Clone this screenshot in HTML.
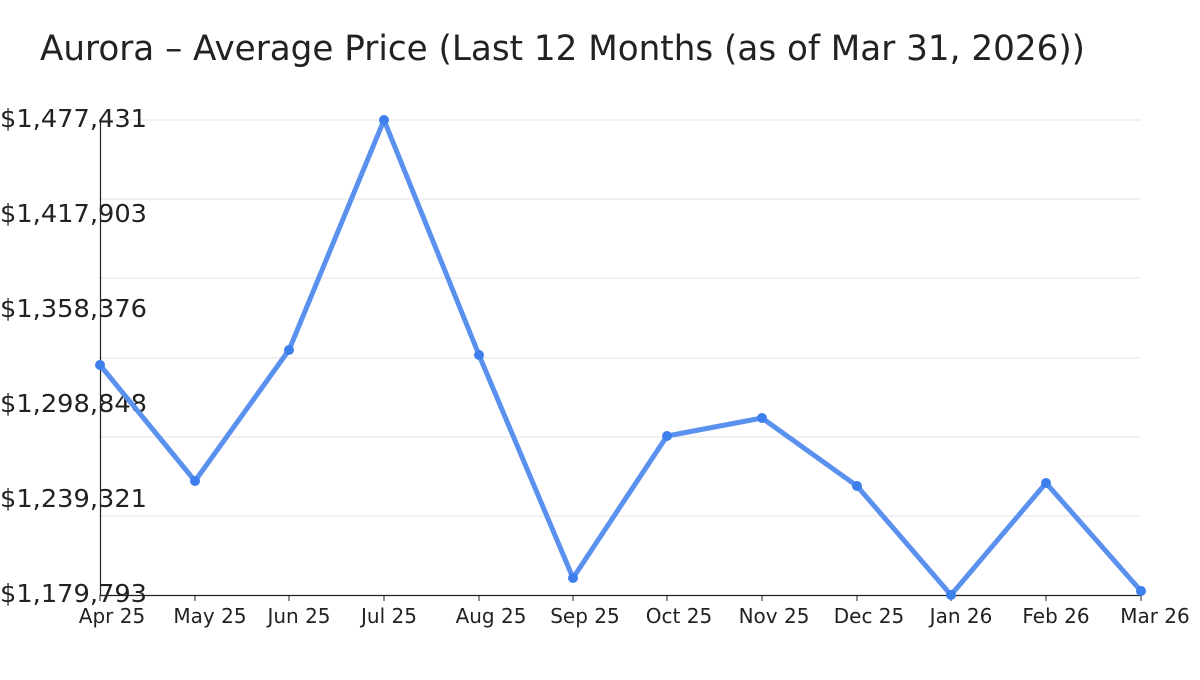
<!DOCTYPE html>
<html><head><meta charset="utf-8"><style>
body{margin:0;background:#fff;}
svg text{font-family:"DejaVu Sans","Liberation Sans",sans-serif;fill:#222;}
</style></head><body>
<svg width="1200" height="675" viewBox="0 0 1200 675">
<text x="40" y="60" font-size="35" textLength="1045" lengthAdjust="spacingAndGlyphs">Aurora – Average Price (Last 12 Months (as of Mar 31, 2026))</text>
<g stroke="#e3e3e3" stroke-width="1">
<line x1="100" x2="1141" y1="120" y2="120"/><line x1="100" x2="1141" y1="199" y2="199"/>
<line x1="100" x2="1141" y1="278" y2="278"/><line x1="100" x2="1141" y1="358" y2="358"/>
<line x1="100" x2="1141" y1="437" y2="437"/><line x1="100" x2="1141" y1="516" y2="516"/>
</g>
<line x1="100.5" x2="100.5" y1="120" y2="595" stroke="#222" stroke-width="1.2"/>
<line x1="100" x2="1141" y1="595.5" y2="595.5" stroke="#222" stroke-width="1.2"/>
<g stroke="#222" stroke-width="1">
<line x1="100" x2="100" y1="595" y2="601"/><line x1="195" x2="195" y1="595" y2="601"/><line x1="289" x2="289" y1="595" y2="601"/><line x1="384" x2="384" y1="595" y2="601"/><line x1="479" x2="479" y1="595" y2="601"/><line x1="573" x2="573" y1="595" y2="601"/><line x1="667" x2="667" y1="595" y2="601"/><line x1="762" x2="762" y1="595" y2="601"/><line x1="857" x2="857" y1="595" y2="601"/><line x1="951" x2="951" y1="595" y2="601"/><line x1="1046" x2="1046" y1="595" y2="601"/><line x1="1141" x2="1141" y1="595" y2="601"/>
</g>
<g font-size="25">
<text x="0" y="127" textLength="147" lengthAdjust="spacingAndGlyphs">$1,477,431</text>
<text x="0" y="222" textLength="147" lengthAdjust="spacingAndGlyphs">$1,417,903</text>
<text x="0" y="317" textLength="147" lengthAdjust="spacingAndGlyphs">$1,358,376</text>
<text x="0" y="412" textLength="147" lengthAdjust="spacingAndGlyphs">$1,298,848</text>
<text x="0" y="507" textLength="147" lengthAdjust="spacingAndGlyphs">$1,239,321</text>
<text x="0" y="602" textLength="147" lengthAdjust="spacingAndGlyphs">$1,179,793</text>
</g>
<g font-size="20" text-anchor="middle">
<text x="112" y="623">Apr 25</text><text x="210" y="623">May 25</text><text x="299" y="623">Jun 25</text><text x="389" y="623">Jul 25</text><text x="491" y="623">Aug 25</text><text x="585" y="623">Sep 25</text><text x="679" y="623">Oct 25</text><text x="774" y="623">Nov 25</text><text x="869" y="623">Dec 25</text><text x="961" y="623">Jan 26</text><text x="1056" y="623">Feb 26</text><text x="1155" y="623">Mar 26</text>
</g>
<polyline fill="none" stroke="#5b91ee" stroke-width="5" stroke-linejoin="round" points="100,365 195,481 289,350 384,120 479,355 573,578 667,436 762,418 857,486 951,595 1046,483 1141,591"/>
<g fill="#3d7fec">
<circle cx="100" cy="365" r="5"/><circle cx="195" cy="481" r="5"/><circle cx="289" cy="350" r="5"/><circle cx="384" cy="120" r="5"/><circle cx="479" cy="355" r="5"/><circle cx="573" cy="578" r="5"/><circle cx="667" cy="436" r="5"/><circle cx="762" cy="418" r="5"/><circle cx="857" cy="486" r="5"/><circle cx="951" cy="595" r="5"/><circle cx="1046" cy="483" r="5"/><circle cx="1141" cy="591" r="5"/>
</g>
</svg>
</body></html>
